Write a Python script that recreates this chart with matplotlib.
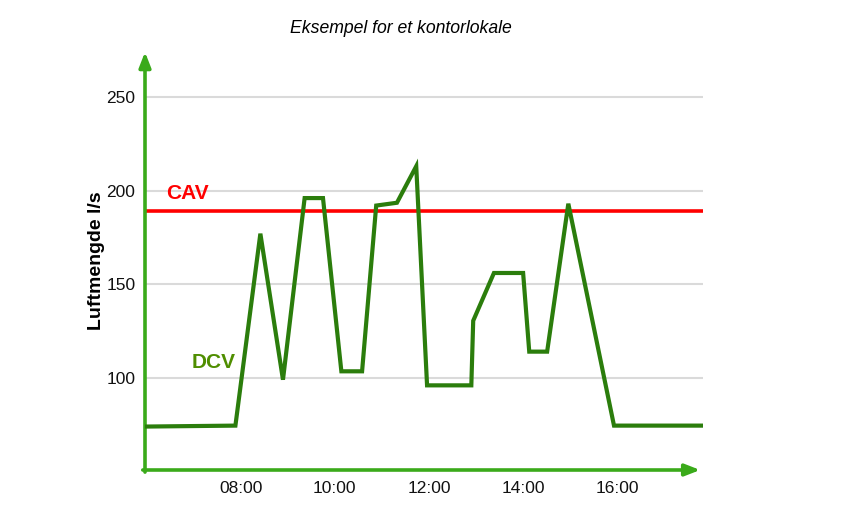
import numpy as np
import matplotlib
matplotlib.use("Agg")
import matplotlib.pyplot as plt

# DCV air flow over the day (hours as decimals)
dcv_hours = [6.0, 7.89, 8.42, 8.90, 9.36, 9.75, 10.14, 10.58, 10.88, 11.32,
             11.73, 11.96, 12.90, 12.94, 13.38, 14.00, 14.13, 14.51, 14.96,
             15.93, 17.78]
dcv_flow = [74, 74.5, 177, 99, 196, 196, 103.5, 103.5, 192, 193.5,
            213, 96, 96, 130.5, 156, 156, 114, 114, 193,
            74.5, 74.5]
cav_flow = 189

xticks = [8, 10, 12, 14, 16]
xlabels = ["08:00", "10:00", "12:00", "14:00", "16:00"]
yticks = [100, 150, 200, 250]

plt.rcParams['font.family'] = ['Liberation Sans', 'DejaVu Sans']

fig = plt.figure(figsize=(8.5, 5.26), dpi=100)
ax = fig.add_axes([145/850, 1-470/526, (703-145)/850, (470-52)/526])
ax.set_xlim(5.97, 17.82)
ax.set_ylim(50.8, 274)

for s in ax.spines.values():
    s.set_visible(False)

#gridlines
for yv in yticks:
    ax.axhline(yv, color="#dadada", lw=1.5, zorder=1)

ax.axhline(cav_flow, color="#ff0000", lw=2.6, zorder=3)
ax.plot(dcv_hours, dcv_flow, color="#2b7d0c", lw=3.0, zorder=4,
        solid_joinstyle="miter")

ax.set_xticks(xticks)
ax.set_xticklabels(xlabels)
ax.set_yticks(yticks)
ax.tick_params(length=0, labelsize=12.5, colors="#111111", pad=8)
ax.tick_params(axis="y", pad=7)

# y label placed by hand so it sits clear of the tick labels
ax.text(-0.087, 0.5, "Luftmengde l/s", transform=ax.transAxes, rotation=90,
        ha="center", va="center", fontsize=14, fontweight="bold")
ax.set_title("Eksempel for et kontorlokale", fontsize=12.7, style="italic",
             x=0.458, y=1.0, pad=14)

ax.text(0.037, 0.662, "CAV", transform=ax.transAxes, color="#ff0000",
        fontsize=15, fontweight="bold", va="center")
ax.text(0.084, 0.258, "DCV", transform=ax.transAxes, color="#4f8e00",
        fontsize=15, fontweight="bold", va="center")

# axis arrows
arr = dict(arrowstyle="-|>,head_length=0.9,head_width=0.35", color="#3aaa1a",
           lw=2.6, shrinkA=0, shrinkB=0)
ax.annotate("", xy=(0, 1.0), xytext=(0, -0.005), xycoords="axes fraction",
            arrowprops=arr, annotation_clip=False)
ax.annotate("", xy=(0.995, 0), xytext=(-0.004, 0), xycoords="axes fraction",
            arrowprops=arr, annotation_clip=False)

fig.savefig("out.png", dpi=100)
